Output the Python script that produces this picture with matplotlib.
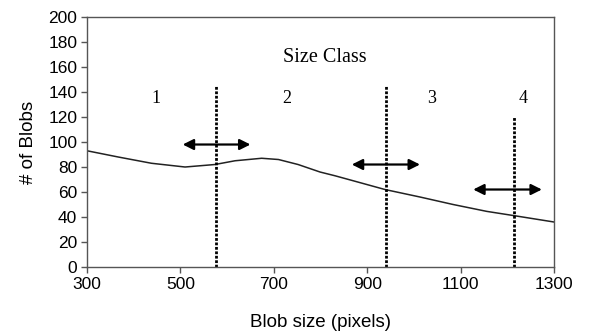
import numpy as np
import matplotlib.pyplot as plt

# curve
blob_size = [300, 367, 438, 510, 574, 617, 674, 710, 752, 799, 831, 870, 938,
             1013, 1084, 1156, 1216, 1300]
n_blobs = [93, 88, 83, 80, 82, 85, 87, 86, 82, 76, 73, 69, 62,
           56, 50, 44.5, 41, 36]

# class boundaries (x, top of dotted line)
bound_x = [576, 940, 1214]
bound_top = [145, 145, 120]

# double arrows (x start, x end, y)
arrow_x0 = [505, 867, 1127]
arrow_x1 = [650, 1013, 1274]
arrow_y = [98, 82, 62]

class_labels = ["1", "2", "3", "4"]
class_x = [448, 728, 1039, 1234]
class_y = 135

plt.rcParams['font.family'] = ['Liberation Sans', 'DejaVu Sans']

fig = plt.figure(figsize=(5.89, 3.34), dpi=100)
ax = fig.add_axes([0.1477, 0.2006, 0.7929, 0.7484])

ax.plot(blob_size, n_blobs, color="#222222", lw=1.1)

for x, top in zip(bound_x, bound_top):
    ax.plot([x, x], [0, top], color="black", linestyle=(0, (1, 0.6)), lw=2)

for x0, x1, y in zip(arrow_x0, arrow_x1, arrow_y):
    ax.annotate("", xy=(x1, y), xytext=(x0, y),
                arrowprops=dict(arrowstyle="<|-|>", color="black", lw=1.6,
                                mutation_scale=16, shrinkA=0, shrinkB=0))

serif = ['Liberation Serif', 'DejaVu Serif']
ax.text(810, 168, "Size Class", family=serif, fontsize=14.5,
        ha="center", va="center")
for lab, x in zip(class_labels, class_x):
    ax.text(x, class_y, lab, family=serif, fontsize=13,
            ha="center", va="center")

ax.set_xlim(300, 1300)
ax.set_ylim(0, 200)
ax.set_xticks(np.arange(300, 1301, 200))
ax.set_yticks(np.arange(0, 201, 20))
ax.tick_params(labelsize=12.5, length=4, width=1, color="#555555", pad=3)
for s in ax.spines.values():
    s.set_color("#555555")
    s.set_linewidth(1)

ax.set_xlabel("Blob size (pixels)", fontsize=13.5, labelpad=16)
ax.set_ylabel("# of Blobs", fontsize=13.5, labelpad=8)

fig.savefig("out.png", dpi=100)
